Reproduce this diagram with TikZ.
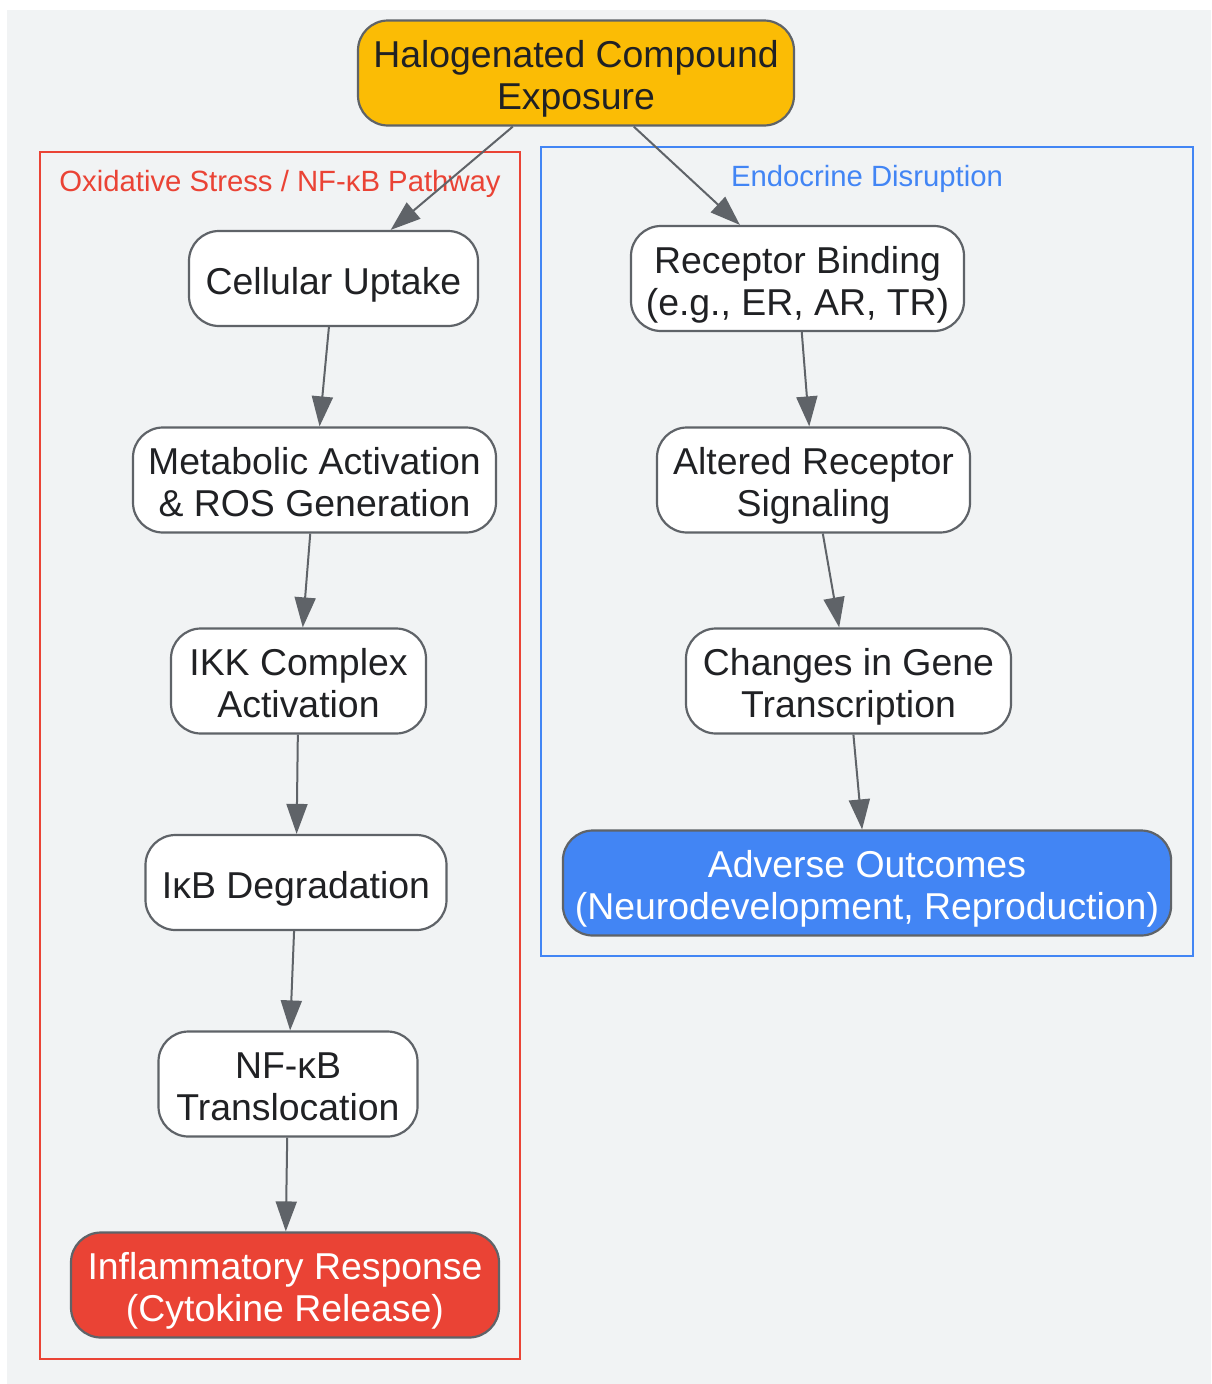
\documentclass[tikz,border=0pt]{standalone}
\usepackage{fontspec}
\setmainfont{Liberation Sans}
\usetikzlibrary{arrows.meta}
\definecolor{bggray}{HTML}{F1F3F4}
\definecolor{edgegray}{HTML}{5F6368}
\definecolor{txtdark}{HTML}{202124}
\definecolor{gred}{HTML}{EA4335}
\definecolor{gblue}{HTML}{4285F4}
\definecolor{gyellow}{HTML}{FBBC05}
\tikzset{
  stepbox/.style={draw=edgegray, line width=2.2pt, rounded corners=30pt, fill=white,
    text=txtdark, font=\fontsize{37.4}{42}\selectfont, align=center,
    inner xsep=12pt, inner ysep=0pt, minimum height=95pt,
    text height=40.5pt, text depth=9pt, minimum width=#1},
  stepbox/.default=100pt,
  tallbox/.style={stepbox=#1, minimum height=105pt, text height=82.5pt},
  tallbox/.default=100pt,
  flow/.style={draw=edgegray, line width=2pt, -{Triangle[length=30pt,width=21pt]}},
  grouplabel/.style={font=\fontsize{29.3}{34}\selectfont, anchor=base}
}
\begin{document}
\begin{tikzpicture}[x=1pt,y=-1pt]
	% Canvas
	\useasboundingbox (0,0) rectangle (1211,1384);
	\fill[bggray] (7,10) rectangle (1211,1384);
	% Group frames
	\draw[gred, line width=2pt] (40,152) rectangle (520,1359);
	\node[grouplabel, text=gred] (oxlabel) at (280,191.5) {Oxidative Stress / NF-κB Pathway};
	\draw[gblue, line width=2pt] (541,147) rectangle (1193,956);
	\node[grouplabel, text=gblue] (edlabel) at (867,186) {Endocrine Disruption};
	% Source
	\node[tallbox=436pt, fill=gyellow] (expo) at (576,73) {Halogenated Compound\\Exposure};
	% Oxidative stress chain
	\node[stepbox=289pt] (uptake) at (333.5,278.5) {Cellular Uptake};
	\node[tallbox=363pt] (rosgen) at (314.5,480) {Metabolic Activation\\\& ROS Generation};
	\node[tallbox=255pt] (ikk) at (298.5,681) {IKK Complex\\Activation};
	\node[stepbox=301pt] (ikb) at (296,882.5) {IκB Degradation};
	\node[tallbox=259pt] (nfkb) at (288,1084) {NF-κB\\Translocation};
	\node[tallbox=428pt, fill=gred, text=white] (inflam) at (285,1285) {Inflammatory Response\\(Cytokine Release)};
	% Endocrine chain
	\node[tallbox=333pt] (recbind) at (797.5,278.5) {Receptor Binding\\(e.g., ER, AR, TR)};
	\node[tallbox=313pt] (recsig) at (813.5,480) {Altered Receptor\\Signaling};
	\node[tallbox=325pt] (genetx) at (848.5,681) {Changes in Gene\\Transcription};
	\node[tallbox=608pt, fill=gblue, text=white] (adverse) at (867,883) {Adverse Outcomes\\(Neurodevelopment, Reproduction)};
	% Connectors
	\foreach \a/\b in {expo/uptake, uptake/rosgen, rosgen/ikk, ikk/ikb, ikb/nfkb, nfkb/inflam,
		expo/recbind, recbind/recsig, recsig/genetx, genetx/adverse}
		\draw[flow] (\a) -- (\b);
\end{tikzpicture}
\end{document}
